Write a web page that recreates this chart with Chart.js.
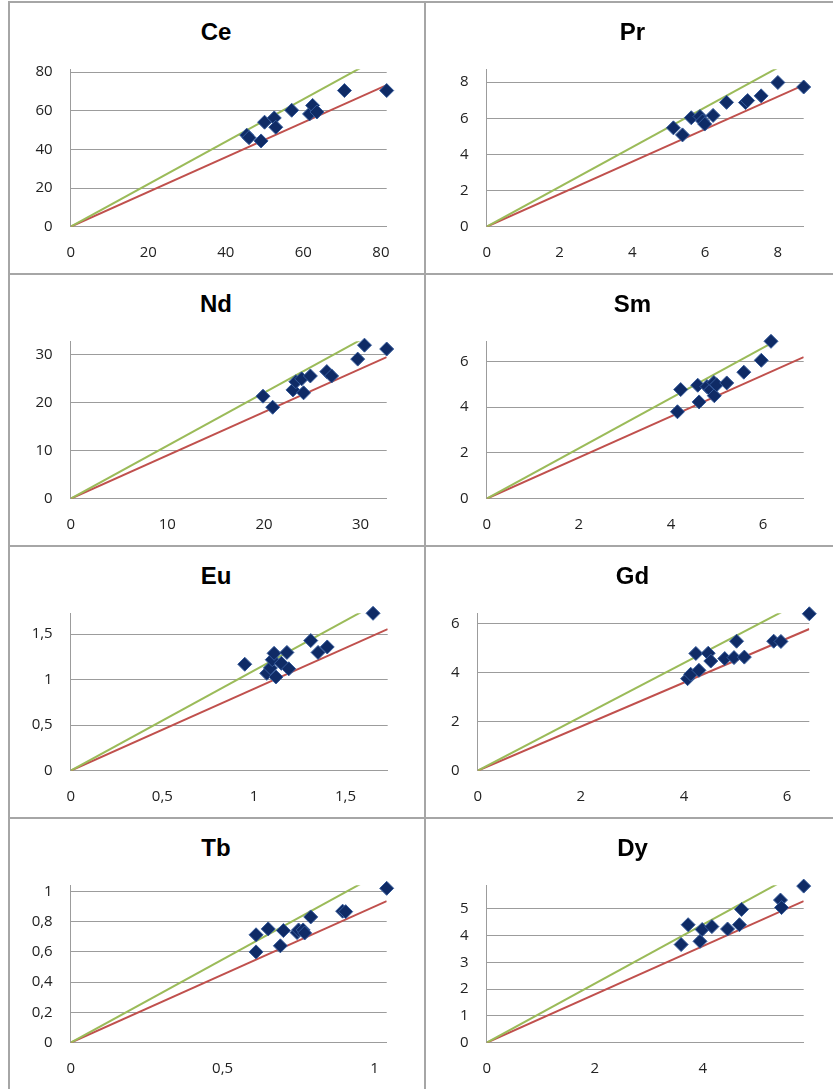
<!DOCTYPE html>
<html>
<head>
<meta charset="utf-8">
<script src="https://cdn.jsdelivr.net/npm/chart.js@4.4.1/dist/chart.umd.min.js"></script>
<style>
  body { margin: 0; background: #fff; }
  #sheet { position: relative; width: 833px; height: 1089px; overflow: hidden; background: #fff; }
  #sheet canvas { position: absolute; }
  .rule { position: absolute; background: #a6a6a6; }
  .title {
    position: absolute; height: 28px; line-height: 28px; text-align: center;
    font: bold 24px "Liberation Sans", Arial, sans-serif; color: #000;
  }
</style>
</head>
<body>
<div id="sheet"></div>
<script>
// element names, one chart per element
const elements = ["Ce", "Pr", "Nd", "Sm", "Eu", "Gd", "Tb", "Dy"];

const ceX = [45.4, 46.0, 49.1, 50.0, 52.5, 52.9, 57.0, 61.6, 62.4, 63.5, 70.6, 81.5];
const ceY = [47.4, 46.1, 44.4, 54.1, 56.3, 51.5, 60.3, 58.4, 62.8, 59.4, 70.5, 70.5];
const prX = [5.13, 5.38, 5.62, 5.86, 5.93, 5.99, 6.22, 6.59, 7.11, 7.17, 7.54, 8.0, 8.71];
const prY = [5.47, 5.08, 6.03, 6.1, 5.85, 5.68, 6.16, 6.88, 6.87, 6.98, 7.24, 7.98, 7.73];
const ndX = [19.9, 20.9, 23.0, 23.3, 23.9, 24.1, 24.8, 26.5, 27.0, 29.7, 30.4, 32.7];
const ndY = [21.3, 19.0, 22.6, 24.3, 24.9, 22.0, 25.5, 26.4, 25.5, 29.0, 31.9, 31.1];
const smX = [4.14, 4.21, 4.58, 4.61, 4.78, 4.86, 4.93, 4.94, 4.99, 5.21, 5.58, 5.96, 6.17];
const smY = [3.80, 4.77, 4.96, 4.23, 4.9, 4.75, 5.08, 4.5, 4.98, 5.06, 5.53, 6.05, 6.88];
const euX = [0.95, 1.07, 1.09, 1.10, 1.11, 1.12, 1.15, 1.18, 1.19, 1.31, 1.35, 1.40, 1.65];
const euY = [1.17, 1.07, 1.13, 1.22, 1.29, 1.03, 1.18, 1.30, 1.12, 1.43, 1.30, 1.36, 1.73];
const gdX = [4.07, 4.13, 4.23, 4.29, 4.47, 4.52, 4.79, 4.97, 5.02, 5.17, 5.74, 5.88, 6.43];
const gdY = [3.76, 3.94, 4.79, 4.10, 4.80, 4.48, 4.58, 4.62, 5.29, 4.64, 5.29, 5.28, 6.41];
const tbX = [0.61, 0.61, 0.65, 0.69, 0.70, 0.745, 0.75, 0.765, 0.77, 0.79, 0.895, 0.905, 1.04];
const tbY = [0.713, 0.60, 0.752, 0.64, 0.741, 0.728, 0.745, 0.745, 0.725, 0.831, 0.869, 0.866, 1.02];
const dyX = [3.60, 3.73, 3.95, 3.99, 4.17, 4.46, 4.68, 4.72, 5.44, 5.46, 5.87];
const dyY = [3.66, 4.40, 3.78, 4.22, 4.33, 4.24, 4.40, 4.97, 5.32, 5.04, 5.84];

// tick spacing per chart
const xSteps = [20, 2, 10, 2, 0.5, 2, 0.5, 2];
const ySteps = [20, 2, 10, 2, 0.5, 2, 0.2, 1];

// +10 % and -10 % reference lines
const ratioLines = [1.1, 0.9];

const seriesX = [ceX, prX, ndX, smX, euX, gdX, tbX, dyX];
const seriesY = [ceY, prY, ndY, smY, euY, gdY, tbY, dyY];

// page layout
const rowTops = [0, 272, 544, 816];
const columns = [
  { left: 10, width: 414, plotLeft: 70.7, plotRight: 386.7, titleLeft: 0, titleWidth: 432 },
  { left: 426, width: 407, plotLeft: 486.7, plotRight: 803.7, titleLeft: 416, titleWidth: 433 }
];
const plotTweaks = { Gd: { plotLeft: 477.7, plotRight: 809.3 }, Eu: { plotRight: 387.7 } };

const sheet = document.getElementById("sheet");
const gridGray = "#9c9c9c";
const tickFont = { family: "'Open Sans', 'Liberation Sans', sans-serif", size: 15 };

function addRule(x, y, w, h) {
    const d = document.createElement("div");
    d.className = "rule";
    Object.assign(d.style, { left: x + "px", top: y + "px", width: w + "px", height: h + "px" });
    sheet.appendChild(d);
}

// table borders
addRule(8, 1, 825, 2);
rowTops.slice(1).forEach((t) => addRule(8, t + 0.5, 825, 2));
addRule(7.5, 1, 2, 1088);
addRule(423.5, 1, 2, 1088);

const fmt = (v) => String(v).replace(".", ",");

elements.forEach((name, i) => {
    const rowTop = rowTops[Math.floor(i / 2)];
    const col = columns[i % 2];
    const tweak = plotTweaks[name] || {};
    const plotLeft = tweak.plotLeft || col.plotLeft;
    const plotRight = tweak.plotRight || col.plotRight;

    const title = document.createElement("div");
    title.className = "title";
    title.textContent = name;
    Object.assign(title.style, { left: col.titleLeft + "px", width: col.titleWidth + "px", top: (rowTop + 17.7) + "px" });
    sheet.appendChild(title);

    const canvas = document.createElement("canvas");
    canvas.width = col.width;
    canvas.height = 268;
    canvas.style.left = col.left + "px";
    canvas.style.top = (rowTop + 3) + "px";
    sheet.appendChild(canvas);

    const xs = seriesX[i];
    const ys = seriesY[i];
    const axisMax = Math.max(...xs, ...ys);
    const points = xs.map((x, k) => ({ x: x, y: ys[k] }));

    const lineSets = ratioLines.map((r, k) => ({
        data: [{ x: 0, y: 0 }, { x: axisMax, y: axisMax * r }],
        showLine: true,
        borderColor: k === 0 ? "#9bbb59" : "#c0504d",
        borderWidth: 2,
        pointRadius: 0
    }));

    new Chart(canvas.getContext("2d"), {
        type: "scatter",
        data: {
            datasets: [
                {
                    data: points,
                    pointStyle: "rectRot",
                    pointRadius: 7,
                    backgroundColor: "#0f2b66",
                    borderColor: "#355a9a",
                    borderWidth: 1,
                    clip: false
                },
                ...lineSets
            ]
        },
        options: {
            responsive: false,
            animation: false,
            events: [],
            layout: { padding: { left: 0, top: 66.3, bottom: 0, right: col.left + col.width - plotRight } },
            plugins: { legend: { display: false }, tooltip: { enabled: false } },
            scales: {
                x: {
                    type: "linear",
                    min: 0,
                    max: axisMax,
                    grid: { display: false },
                    border: { color: gridGray, width: 1 },
                    ticks: { stepSize: xSteps[i], includeBounds: false, padding: 9, font: tickFont, color: "#222", maxRotation: 0, callback: fmt },
                    afterFit: (s) => { s.height = 44.3; }
                },
                y: {
                    type: "linear",
                    min: 0,
                    max: axisMax,
                    grid: { color: gridGray, drawTicks: false },
                    border: { color: gridGray, width: 1 },
                    ticks: { stepSize: ySteps[i], includeBounds: false, padding: 18, font: tickFont, color: "#222", callback: fmt },
                    afterFit: (s) => { s.width = plotLeft - col.left; }
                }
            }
        }
    });
});
</script>
</body>
</html>
